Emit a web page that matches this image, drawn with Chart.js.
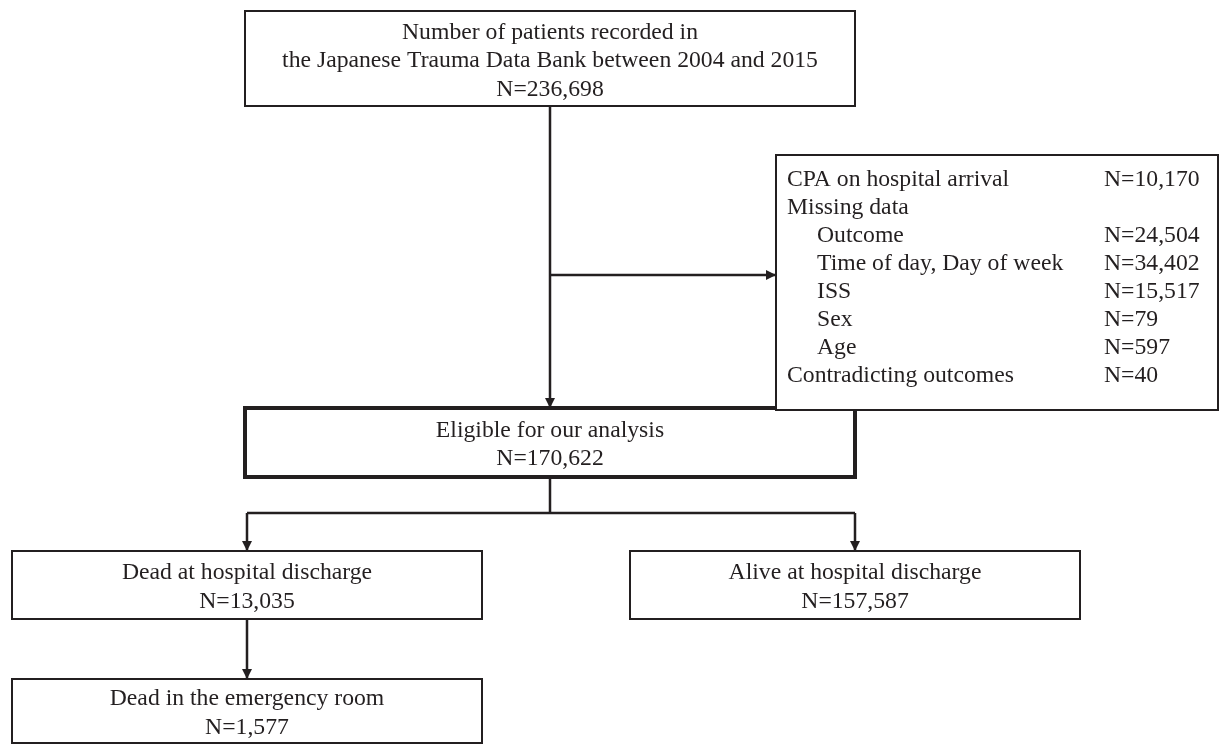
<!DOCTYPE html>
<html><head><meta charset="utf-8">
<script src="https://cdn.jsdelivr.net/npm/chart.js@4.4.0/dist/chart.umd.min.js"></script>
<style>html,body{margin:0;padding:0;background:#fff;}#wrap{width:1221px;height:746px;}</style>
</head><body><div id="wrap"><canvas id="c" width="1221" height="746"></canvas></div>
<script>
// ---- data ----
const stageTitles = [
  ["Number of patients recorded in", "the Japanese Trauma Data Bank between 2004 and 2015"],
  ["Eligible for our analysis"],
  ["Dead at hospital discharge"],
  ["Alive at hospital discharge"],
  ["Dead in the emergency room"]
];
const stageCounts = [236698, 170622, 13035, 157587, 1577];
const exclusionLabels = ["CPA on hospital arrival", "Missing data", "Outcome", "Time of day, Day of week", "ISS", "Sex", "Age", "Contradicting outcomes"];
const exclusionCounts = [10170, null, 24504, 34402, 15517, 79, 597, 40];
const exclusionLevel = [0, 0, 1, 1, 1, 1, 1, 0];

// ---- layout (diagram coordinate space = 1221 x 746) ----
const stageBoxes = [
  {x0: 245, x1: 855, y0: 11, y1: 106, lw: 2},
  {x0: 245, x1: 855, y0: 408, y1: 477, lw: 4},
  {x0: 12, x1: 482, y0: 551, y1: 619, lw: 2},
  {x0: 630, x1: 1080, y0: 551, y1: 619, lw: 2},
  {x0: 12, x1: 482, y0: 679, y1: 743, lw: 2}
];
const exclusionBox = {x0: 776, x1: 1218, y0: 155, y1: 410, lw: 2};
const connectors = [
  {pts: [[550, 106], [550, 408]], arrow: true},
  {pts: [[550, 275], [776, 275]], arrow: true},
  {pts: [[550, 477], [550, 513]], arrow: false},
  {pts: [[247, 513], [855, 513]], arrow: false},
  {pts: [[247, 513], [247, 551]], arrow: true},
  {pts: [[855, 513], [855, 551]], arrow: true},
  {pts: [[247, 619], [247, 679]], arrow: true}
];

const INK = '#231f20';
const FONT = "23.7px 'Liberation Serif', 'Times New Roman', serif";
const fmtN = n => 'N=' + n.toLocaleString('en-US');

const flowPlugin = {
  id: 'flow',
  afterDatasetsDraw(chart) {
    const ctx = chart.ctx, xs = chart.scales.x, ys = chart.scales.y;
    const X = v => xs.getPixelForValue(v), Y = v => ys.getPixelForValue(v);
    ctx.save();
    ctx.strokeStyle = INK; ctx.fillStyle = INK;
    // arrowheads
    chart.data.datasets.forEach((ds, i) => {
      if (!connectors[i].arrow) return;
      const d = ds.data, a = d[d.length - 2], b = d[d.length - 1];
      const tx = X(b.x), ty = Y(b.y), fx = X(a.x), fy = Y(a.y);
      const ang = Math.atan2(ty - fy, tx - fx);
      const L = 10, W = 5;
      ctx.beginPath();
      ctx.moveTo(tx, ty);
      ctx.lineTo(tx - L * Math.cos(ang) + W * Math.sin(ang), ty - L * Math.sin(ang) - W * Math.cos(ang));
      ctx.lineTo(tx - L * Math.cos(ang) - W * Math.sin(ang), ty - L * Math.sin(ang) + W * Math.cos(ang));
      ctx.closePath(); ctx.fill();
    });
    // boxes
    const drawBox = b => {
      ctx.fillStyle = '#fff';
      ctx.fillRect(X(b.x0), Y(b.y0), X(b.x1) - X(b.x0), Y(b.y1) - Y(b.y0));
      ctx.lineWidth = b.lw; ctx.strokeStyle = INK;
      ctx.strokeRect(X(b.x0), Y(b.y0), X(b.x1) - X(b.x0), Y(b.y1) - Y(b.y0));
    };
    ctx.font = FONT; ctx.textBaseline = 'alphabetic';
    stageBoxes.forEach((b, i) => {
      drawBox(b);
      const lines = stageTitles[i].concat([fmtN(stageCounts[i])]);
      const cx = (X(b.x0) + X(b.x1)) / 2, cy = (Y(b.y0) + Y(b.y1)) / 2;
      ctx.fillStyle = INK; ctx.textAlign = 'center';
      lines.forEach((t, k) => ctx.fillText(t, cx, cy + (k - (lines.length - 1) / 2) * 28.5 + 8.5));
    });
    drawBox(exclusionBox);
    ctx.fillStyle = INK; ctx.textAlign = 'left';
    exclusionLabels.forEach((t, k) => {
      const y = Y(exclusionBox.y0) + 31 + k * 28;
      ctx.fillText(t, X(exclusionBox.x0) + 11 + exclusionLevel[k] * 30, y);
      if (exclusionCounts[k] != null) ctx.fillText(fmtN(exclusionCounts[k]), X(1104), y);
    });
    ctx.restore();
  }
};

new Chart(document.getElementById('c'), {
  type: 'scatter',
  data: {
    datasets: connectors.map(c => ({
      data: c.pts.map(p => ({x: p[0], y: p[1]})),
      showLine: true, borderColor: INK, borderWidth: 2.5, pointRadius: 0, fill: false
    }))
  },
  options: {
    responsive: false, animation: false, devicePixelRatio: 1,
    layout: {padding: 0},
    plugins: {legend: {display: false}, tooltip: {enabled: false}},
    scales: {
      x: {type: 'linear', min: 0, max: 1221, display: false},
      y: {type: 'linear', min: 0, max: 746, reverse: true, display: false}
    }
  },
  plugins: [flowPlugin]
});
</script></body></html>
